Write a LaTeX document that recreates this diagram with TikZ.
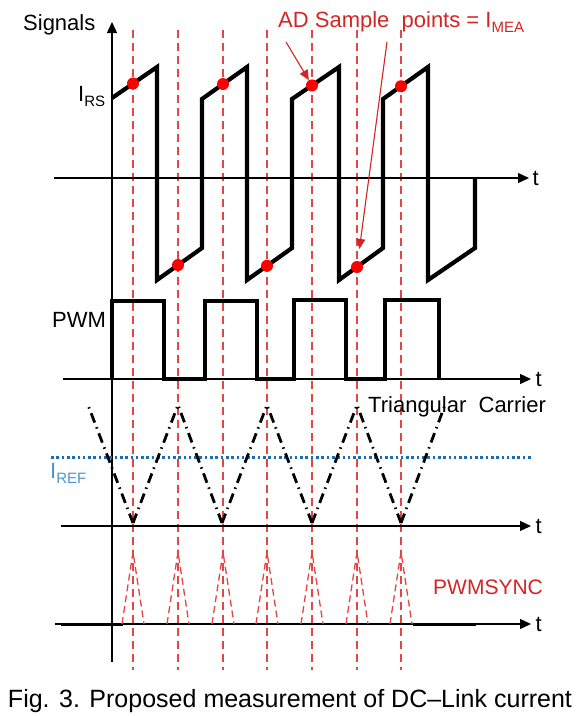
\documentclass[tikz,border=0pt]{standalone}
\usepackage{fontspec}
\setmainfont{Liberation Sans}
\usetikzlibrary{arrows.meta,positioning}
\definecolor{rojo}{RGB}{210,38,38}
\definecolor{rojol}{RGB}{228,70,70}
\definecolor{azul}{RGB}{28,110,178}
\definecolor{azulc}{RGB}{75,150,200}
\newcommand{\bajo}[1]{\raisebox{-5pt}{\fontsize{15}{15}\selectfont #1}}
\tikzset{
  eje/.style={line width=1.3pt, -{Triangle[length=11pt,width=10pt]}},
  onda/.style={line width=4.2pt, line join=miter},
  mue/.style={rojol, line width=1.3pt, dash pattern=on 8pt off 5pt},
  pto/.style={circle, fill=red, inner sep=0pt, minimum size=12pt},
  port/.style={line width=2.8pt, dash pattern=on 10pt off 5pt on 1.5pt off 5pt},
  refl/.style={azul, line width=3pt, dash pattern=on 2.6pt off 2.7pt},
  sinc/.style={rojol, line width=1.3pt, dash pattern=on 7pt off 4pt},
  fla/.style={-{Triangle[length=10pt,width=9pt]}, rojo, line width=1.1pt},
  et/.style={inner sep=0pt, anchor=base west},
}
\begin{document}
\begin{tikzpicture}[x=1pt, y=-1pt, font=\fontsize{22}{24}\selectfont]
  \useasboundingbox (0,0) rectangle (580,716);
  % sampling instants
  \draw[mue] (133,30)--(133,670); \draw[mue] (178,30)--(178,670); \draw[mue] (223,30)--(223,670);
  \draw[mue] (267,30)--(267,670); \draw[mue] (312,30)--(312,670); \draw[mue] (357,30)--(357,670);
  \draw[mue] (401,30)--(401,670);
  % axes
  \draw[eje] (112,662)--(112,22);
  \node[et] (sig) at (23,30) {Signals};
  \draw[eje] (54,178)--(529,178) node[right=3pt, inner sep=0pt] (t1) {t};
  \draw[eje] (63,379)--(531,379) node[right=4pt, inner sep=0pt] (t2) {t};
  \draw[eje] (61,526)--(531,526) node[right=4pt, inner sep=0pt] (t3) {t};
  \draw[eje] (55,624)--(531,624) node[right=4pt, inner sep=0pt] (t4) {t};
  % DC-link current
  \draw[onda] (112,98)--(157,67)--(157,280)--(202,248)--(202,99)--(247,67)--(247,280)--(292,248)--(292,99)
    --(339,67)--(339,280)--(383,248)--(383,99)--(428,67)--(428,280)--(475,248)--(475,178);
  \node[et] (irs) at (78,101) {I\bajo{RS}};
  % PWM
  \draw[onda] (112,379)--(112,301)--(164,301)--(164,379)--(205,379)--(205,301)--(257,301)--(257,379)
    --(294,379)--(294,300)--(346,300)--(346,379)--(385,379)--(385,300)--(439,300)--(439,379);
  \node[et] (pwm) at (52,327) {PWM};
  % carrier and reference
  \draw[refl] (51,457)--(532,457);
  \node[et, azulc] (iref) at (50,478) {I\bajo{REF}};
  \draw[port] (133,523)--(88,405); \draw[port] (133,523)--(178,405);
  \draw[port] (222,523)--(178,405); \draw[port] (222,523)--(267,405);
  \draw[port] (312,523)--(267,405); \draw[port] (312,523)--(357,405);
  \draw[port] (401,523)--(357,405); \draw[port] (401,523)--(445,405);
  \node[et] (tri) at (368,412) {Triangular\ \ Carrier};
  % PWMSYNC
  \draw[onda, line width=3pt] (61,624)--(123,624); \draw[onda, line width=3pt] (413,624)--(476,624);
  \draw[sinc] (122,624)--(133,552)--(144,624); \draw[sinc] (167,624)--(178,552)--(189,624);
  \draw[sinc] (212,624)--(223,552)--(234,624); \draw[sinc] (256,624)--(267,552)--(278,624);
  \draw[sinc] (301,624)--(312,552)--(323,624); \draw[sinc] (346,624)--(357,552)--(368,624);
  \draw[sinc] (390,624)--(401,552)--(412,624);
  \node[et, rojo, font=\fontsize{21}{24}\selectfont] (sync) at (433,594) {PWMSYNC};
  % AD sample points
  \node[pto] (p1) at (133,83.5) {}; \node[pto] (p2) at (178,265) {};
  \node[pto] (p3) at (223,84) {};   \node[pto] (p4) at (267,265.8) {};
  \node[pto] (p5) at (312,85.4) {}; \node[pto] (p6) at (357,267) {};
  \node[pto] (p7) at (401,86.2) {};
  \node[et, rojo] (ad) at (278,27) {AD Sample\ \ points = I\bajo{MEA}};
  \coordinate (a1) at (286,42); \coordinate (a2) at (387,42);
  \draw[fla] (a1)--(p5);
  \draw[fla, shorten >=12pt] (a2)--(p6);
  \node[inner sep=0pt, anchor=base, font=\fontsize{25}{28}\selectfont] (cap) at (290,707)
   {\makebox[564pt][s]{Fig. 3. Proposed measurement of DC--Link current}};
\end{tikzpicture}
\end{document}
